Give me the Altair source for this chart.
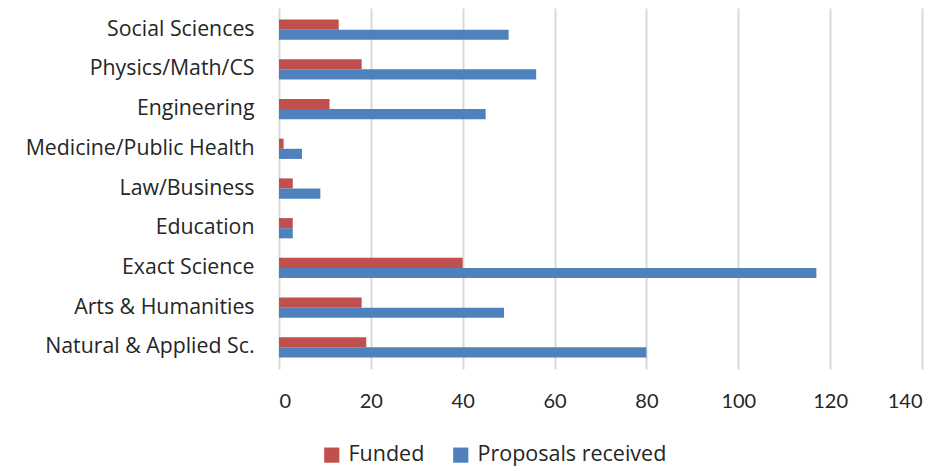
import altair as alt
import pandas as pd

categories = ["Social Sciences", "Physics/Math/CS", "Engineering", "Medicine/Public Health",
              "Law/Business", "Education", "Exact Science", "Arts & Humanities",
              "Natural & Applied Sc."]
funded = [13, 18, 11, 1, 3, 3, 40, 18, 19]
proposals = [50, 56, 45, 5, 9, 3, 117, 49, 80]
series = ["Funded", "Proposals received"]
colors = ["#C0504D", "#4F81BD"]

rows = []
for c, f, p in zip(categories, funded, proposals):
    rows.append({"cat": c, "series": series[0], "value": f})
    rows.append({"cat": c, "series": series[1], "value": p})
df = pd.DataFrame(rows)

chart = alt.Chart(df).mark_bar(stroke=None).encode(
    y=alt.Y("cat:N", sort=categories, title=None,
            scale=alt.Scale(paddingInner=0.49, paddingOuter=0.29),
            axis=alt.Axis(ticks=False, domain=False, labelFontSize=21.3, labelFont="Open Sans",
                          labelColor="#262626", labelPadding=25, labelLimit=400)),
    yOffset=alt.YOffset("series:N", sort=series, scale=alt.Scale(paddingInner=0, paddingOuter=0)),
    x=alt.X("value:Q", title=None,
            scale=alt.Scale(domain=[0, 140], nice=False),
            axis=alt.Axis(values=[0, 20, 40, 60, 80, 100, 120, 140], ticks=False, domain=False,
                          grid=True, gridColor="#D9D9D9", gridWidth=2,
                          labelFontSize=20, labelFont="Lato", labelColor="#262626",
                          labelPadding=22)),
    color=alt.Color("series:N", sort=series,
                    scale=alt.Scale(domain=series, range=colors),
                    legend=alt.Legend(title=None, orient="none", direction="horizontal",
                                      legendX=42, legendY=436, symbolType="square",
                                      symbolSize=230, symbolStrokeWidth=0,
                                      labelFontSize=21.5, labelFont="Open Sans",
                                      labelColor="#262626", columnPadding=25,
                                      labelOffset=6, labelLimit=400)),
).properties(width=643, height=361,
             padding={"left": 17, "top": 0, "right": 5, "bottom": 6}
).configure_view(stroke=None)

chart.save("out.html", embed_options={"renderer": "svg", "actions": False})
